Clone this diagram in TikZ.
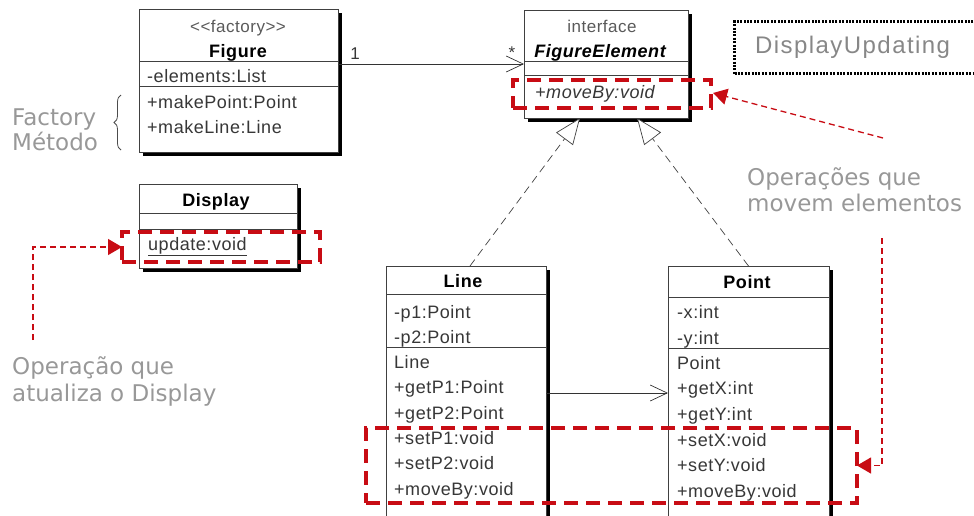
\documentclass[tikz,border=0pt]{standalone}
\usepackage{fontspec}
\setmainfont{Liberation Sans}
\newfontfamily\umlfont{Liberation Sans}[LetterSpace=3]
\newfontfamily\notefont{DejaVu Sans}
\newfontfamily\tagfont{Liberation Sans}[LetterSpace=6]
\usetikzlibrary{shadows,decorations.pathreplacing,arrows.meta,calc}

\definecolor{hilite}{RGB}{200,12,20}
\definecolor{notegray}{RGB}{152,152,152}
\definecolor{umltext}{RGB}{55,55,55}
\definecolor{stereo}{RGB}{90,90,90}

\tikzset{
  classbox/.style={draw=black!75, line width=0.7pt, fill=white, anchor=north west,
    inner sep=0pt, outer sep=0pt,
    drop shadow={shadow xshift=4pt, shadow yshift=-4pt, fill=black, opacity=1}},
  divider/.style={draw=black!75, line width=0.7pt},
  member/.style={anchor=base west, inner sep=0pt, text=umltext,
    font=\umlfont\fontsize{18}{20}\selectfont},
  title/.style={anchor=base, inner sep=0pt, text=black,
    font=\umlfont\bfseries\fontsize{18}{20}\selectfont},
  stereotype/.style={anchor=base, inner sep=0pt, text=stereo,
    font=\umlfont\fontsize{17}{20}\selectfont},
  assoc/.style={draw=black!80, line width=0.7pt,
    -{Straight Barb[length=17pt, width=16pt, line width=0.7pt]}},
  realize/.style={draw=black!75, line width=0.7pt, dash pattern=on 8pt off 5pt,
    -{Triangle[open, length=26pt, width=21pt, line width=0.7pt, fill=white]}},
  hibox/.style={draw=hilite, line width=4pt, dash pattern=on 14pt off 8pt,
    anchor=north west, inner sep=0pt, outer sep=0pt},
  hiarrow/.style={draw=hilite, line width=1.3pt, dash pattern=on 6pt off 4pt,
    -{Triangle[length=14pt, width=16pt, fill=hilite]}},
  note/.style={anchor=base west, inner sep=0pt, text=notegray,
    font=\notefont\fontsize{23}{26}\selectfont},
  tagbox/.style={draw=black, line width=3pt, dash pattern=on 2pt off 1.4pt,
    anchor=north west, inner sep=0pt},
}

\begin{document}
\begin{tikzpicture}[x=1pt, y=-1pt]
\useasboundingbox (0,0) rectangle (974,515);
\clip (0,0) rectangle (974,515);

% ---- class Figure (factory) ----
\node[classbox, minimum width=199pt, minimum height=143pt] (figure) at (139,9) {};
\draw[divider] (figure.west |- 0,61) -- (figure.east |- 0,61);
\draw[divider] (figure.west |- 0,86) -- (figure.east |- 0,86);
\node[stereotype] (figSt) at (238,32) {<<factory>>};
\node[title] (figT) at (238,57) {Figure};
\node[member] (figA1) at (147,82) {-elements:List};
\node[member] (figM1) at (147,108) {+makePoint:Point};
\node[member] (figM2) at (147,133) {+makeLine:Line};

% ---- interface FigureElement ----
\node[classbox, minimum width=164pt, minimum height=108pt] (felem) at (524,10) {};
\draw[divider] (felem.west |- 0,61) -- (felem.east |- 0,61);
\draw[divider] (felem.west |- 0,75) -- (felem.east |- 0,75);
\node[stereotype] (feSt) at (602,32) {interface};
\node[title, font=\umlfont\bfseries\itshape\fontsize{18}{20}\selectfont] (feT) at (600,57) {FigureElement};
\node[member, font=\umlfont\itshape\fontsize{18}{20}\selectfont] (feM1) at (535,98) {+moveBy:void};

% ---- class Display ----
\node[classbox, minimum width=158pt, minimum height=84pt] (display) at (139,184) {};
\draw[divider] (display.west |- 0,213) -- (display.east |- 0,213);
\draw[divider] (display.west |- 0,229) -- (display.east |- 0,229);
\node[title] (dispT) at (216,206) {Display};
\node[member] (dispM1) at (148,250) {\underline{update:void}};

% ---- class Line ----
\node[classbox, minimum width=160pt, minimum height=280pt] (line) at (386,266) {};
\draw[divider] (line.west |- 0,294) -- (line.east |- 0,294);
\draw[divider] (line.west |- 0,347) -- (line.east |- 0,347);
\node[title] (lineT) at (463,287) {Line};
\node[member] (lineA1) at (394,318) {-p1:Point};
\node[member] (lineA2) at (394,343) {-p2:Point};
\node[member] (lineM0) at (394,368) {Line};
\node[member] (lineM1) at (394,393) {+getP1:Point};
\node[member] (lineM2) at (394,419) {+getP2:Point};
\node[member] (lineM3) at (394,444) {+setP1:void};
\node[member] (lineM4) at (394,469) {+setP2:void};
\node[member] (lineM5) at (394,495) {+moveBy:void};

% ---- class Point ----
\node[classbox, minimum width=161pt, minimum height=280pt] (point) at (668,266) {};
\draw[divider] (point.west |- 0,297) -- (point.east |- 0,297);
\draw[divider] (point.west |- 0,348) -- (point.east |- 0,348);
\node[title] (pointT) at (747,288) {Point};
\node[member] (ptA1) at (677,318) {-x:int};
\node[member] (ptA2) at (677,344) {-y:int};
\node[member] (ptM0) at (677,369) {Point};
\node[member] (ptM1) at (677,394) {+getX:int};
\node[member] (ptM2) at (677,420) {+getY:int};
\node[member] (ptM3) at (677,446) {+setX:void};
\node[member] (ptM4) at (677,471) {+setY:void};
\node[member] (ptM5) at (677,497) {+moveBy:void};

% ---- relations ----
\draw[assoc] (figure.east |- felem.west) -- (felem.west);
\node[anchor=base, inner sep=0pt, text=umltext, font=\umlfont\fontsize{17}{20}\selectfont] (mult1) at (355,59) {1};
\node[anchor=base, inner sep=0pt, text=umltext, font=\umlfont\fontsize{17}{20}\selectfont] (multN) at (512,58) {*};
\draw[assoc] (line.east |- 0,393) -- (point.west |- 0,393);
\draw[realize] ([xshift=4pt]line.north) -- ([xshift=-26pt]felem.south);
\draw[realize] (point.north) -- ([xshift=31pt]felem.south);

% ---- highlighted operations ----
\node[hibox, minimum width=198pt, minimum height=28pt] (hlMove) at (513,80) {};
\node[hibox, minimum width=198pt, minimum height=30pt] (hlUpd) at (122,232) {};
\node[hibox, minimum width=491pt, minimum height=75pt] (hlOps) at (366,428) {};

% ---- aspect name ----
\node[tagbox, minimum width=260pt, minimum height=52pt] (aspect) at (733,20) {};
\node[anchor=base west, inner sep=0pt, text=black!47,
  font=\tagfont\fontsize{24}{28}\selectfont] (aspectT) at (755,53) {DisplayUpdating};

% ---- notes ----
\node[note] (factA) at (12,125) {Factory};
\node[note] (factB) at (12,150) {Método};
\draw[black!70, line width=0.8pt, decorate, decoration={brace, amplitude=7pt}]
  (121,150) -- (121,95);

\node[note] (opA) at (12,374) {Operação que};
\node[note] (opB) at (12,401) {atualiza o Display};
\coordinate (updSrc) at (33,340);
\draw[hiarrow] (updSrc) |- (hlUpd.west);

\node[note] (movA) at (747,185) {Operações que};
\node[note] (movB) at (747,211) {movem elementos};
\coordinate (movSrcA) at (883,138);
\coordinate (movSrcB) at (882,238);
\draw[hiarrow] (movSrcA) -- ([xshift=2pt,yshift=1pt]hlMove.east);
\draw[hiarrow] (movSrcB) |- (hlOps.east);
\end{tikzpicture}
\end{document}
